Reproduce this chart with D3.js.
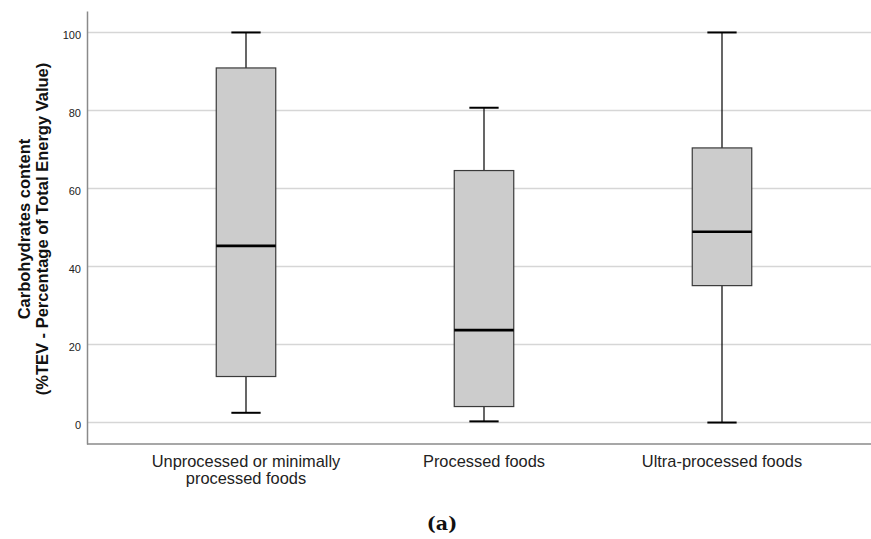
<!DOCTYPE html>
<html>
<head>
<meta charset="utf-8">
<script src="https://cdn.jsdelivr.net/npm/d3@7"></script>
<style>
	body { margin: 0; background: #fff; }
	svg { display: block; font-family: "Liberation Sans", Arial, sans-serif; }
</style>
</head>
<body>
<div id="chart"></div>
<script>
// box plot values (%TEV)
const categories = ["Unprocessed or minimally processed foods", "Processed foods", "Ultra-processed foods"],
	label_lines = [["Unprocessed or minimally", "processed foods"], ["Processed foods"], ["Ultra-processed foods"]],
	whisker_low = [2.5, 0.3, 0],
	q1 = [11.8, 4.1, 35.1],
	median = [45.3, 23.7, 48.9],
	q3 = [90.9, 64.6, 70.4],
	whisker_high = [100, 80.7, 100],
	y_ticks = [0, 20, 40, 60, 80, 100];

const params = {
		width: 871,
		height: 539,
		left: 87,
		right: 871,
		top: 11,
		bottom: 444
	},
	svg = d3.select('#chart').append('svg')
		.attr('width', params.width)
		.attr('height', params.height);

const x = d3.scaleBand().domain(categories).range([127, 841]).padding(0),
	y = d3.scaleLinear().domain([-5.5, 105.5]).range([params.bottom, params.top]);

const box_w = x.bandwidth() * 0.25,
	cap_w = x.bandwidth() * 0.123;

// grid lines
svg.append('g').selectAll('line')
	.data(y_ticks)
	.join('line')
	.attr('x1', params.left)
	.attr('x2', params.right)
	.attr('y1', d => y(d))
	.attr('y2', d => y(d))
	.attr('stroke', '#d6d6d6')
	.attr('stroke-width', 1.5);

// y axis
const y_axis = svg.append('g')
	.attr('transform', `translate(${params.left},0)`)
	.call(d3.axisLeft(y).tickValues(y_ticks).tickSize(0).tickSizeOuter(0).tickPadding(6));
y_axis.select('.domain').attr('stroke', '#8a8a8a').attr('stroke-width', 1.5);
y_axis.selectAll('text')
	.attr('font-family', '"Liberation Sans", Arial, sans-serif')
	.attr('font-size', 11)
	.attr('fill', '#222')
	.attr('dy', '0.55em');

// x axis line
svg.append('line')
	.attr('x1', params.left)
	.attr('x2', params.right)
	.attr('y1', params.bottom)
	.attr('y2', params.bottom)
	.attr('stroke', '#8a8a8a')
	.attr('stroke-width', 1.5);

// boxes
const boxes = svg.append('g').selectAll('g')
	.data(categories.map((c, i) => ({c, i})))
	.join('g')
	.attr('transform', d => `translate(${x(d.c) + x.bandwidth() / 2},0)`);

// whiskers
boxes.append('line')
	.attr('y1', d => y(whisker_high[d.i]))
	.attr('y2', d => y(q3[d.i]))
	.attr('stroke', '#000')
	.attr('stroke-width', 1.2);
boxes.append('line')
	.attr('y1', d => y(q1[d.i]))
	.attr('y2', d => y(whisker_low[d.i]))
	.attr('stroke', '#000')
	.attr('stroke-width', 1.2);

// caps
[whisker_high, whisker_low].forEach(arr => {
	boxes.append('line')
		.attr('x1', -cap_w / 2)
		.attr('x2', cap_w / 2)
		.attr('y1', d => y(arr[d.i]))
		.attr('y2', d => y(arr[d.i]))
		.attr('stroke', '#000')
		.attr('stroke-width', 2);
});

boxes.append('rect')
	.attr('x', -box_w / 2)
	.attr('width', box_w)
	.attr('y', d => y(q3[d.i]))
	.attr('height', d => y(q1[d.i]) - y(q3[d.i]))
	.attr('fill', '#cccccc')
	.attr('stroke', '#3a3a3a')
	.attr('stroke-width', 1.2);

boxes.append('line')
	.attr('x1', -box_w / 2)
	.attr('x2', box_w / 2)
	.attr('y1', d => y(median[d.i]))
	.attr('y2', d => y(median[d.i]))
	.attr('stroke', '#000')
	.attr('stroke-width', 2.6);

// category labels
const labels = svg.append('g').selectAll('text')
	.data(categories.map((c, i) => ({c, i})))
	.join('text')
	.attr('x', d => x(d.c) + x.bandwidth() / 2)
	.attr('y', 467)
	.attr('text-anchor', 'middle')
	.attr('font-size', 16.4)
	.attr('fill', '#222');
labels.selectAll('tspan')
	.data(d => label_lines[d.i].map(t => ({t, x: x(d.c) + x.bandwidth() / 2})))
	.join('tspan')
	.attr('x', d => d.x)
	.attr('dy', (d, j) => j ? 17 : 0)
	.text(d => d.t);

// y axis title
const title = svg.append('text')
	.attr('transform', 'translate(30,229) rotate(-90)')
	.attr('text-anchor', 'middle')
	.attr('font-weight', 'bold')
	.attr('font-size', 16.5)
	.attr('fill', '#111');
title.append('tspan').attr('x', 0).attr('dy', 0).text('Carbohydrates content');
title.append('tspan').attr('x', 0).attr('dy', 18).text('(%TEV - Percentage of Total Energy Value)');

// panel letter
svg.append('text')
	.attr('x', 442)
	.attr('y', 530)
	.attr('text-anchor', 'middle')
	.attr('font-family', '"DejaVu Serif", "Liberation Serif", serif')
	.attr('font-weight', 'bold')
	.attr('font-size', 19)
	.attr('fill', '#111')
	.text('(a)');
</script>
</body>
</html>
